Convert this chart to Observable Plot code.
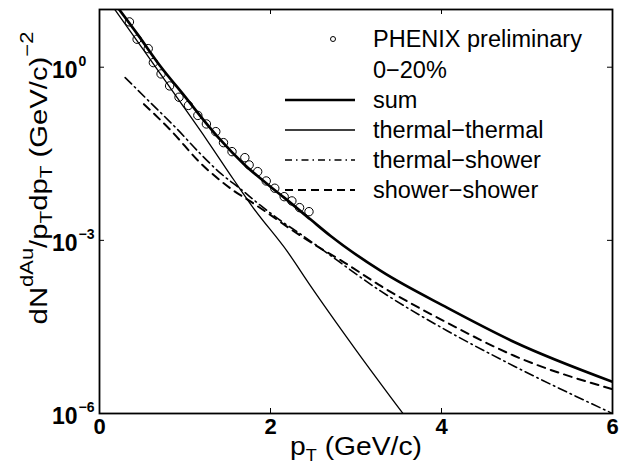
<!DOCTYPE html>
<html>
<head>
<meta charset="utf-8">
<script src="https://cdn.jsdelivr.net/npm/d3@7"></script>
<script src="https://cdn.jsdelivr.net/npm/@observablehq/plot@0.6"></script>
<style>
  html, body { margin: 0; padding: 0; background: white; }
</style>
</head>
<body>
<div id="chart"></div>
<script>
// ---- data ----
const xTicks = [0, 2, 4, 6];
const yTicks = [1, 1e-3, 1e-6];
const yTickExponents = ["0", "\u22123", "\u22126"];

// PHENIX preliminary 0-20% (pT in GeV/c, log10 of yield)
const phenixX = [0.35,0.44,0.57,0.63,0.72,0.82,0.93,1.04,1.15,1.25,1.36,1.45,1.55,1.70,1.75,1.85,1.95,2.05,2.16,2.25,2.34,2.45];
const phenixLog = [0.785,0.485,0.322,0.08,-0.116,-0.324,-0.52,-0.662,-0.835,-0.983,-1.116,-1.307,-1.463,-1.567,-1.693,-1.809,-1.971,-2.097,-2.243,-2.317,-2.433,-2.503];

// sum
const sumX = [0.2,0.45,0.71,1.0,1.22,1.415,1.69,2.0,2.16,2.47,2.7,3.29,4.07,4.85,6.0];
const sumLog = [1.06,0.56,0.02,-0.51,-0.92,-1.26,-1.68,-2.07,-2.26,-2.64,-2.92,-3.53,-4.17,-4.76,-5.45];

// thermal-thermal
const ttX = [0.15,0.5,0.9,1.26,1.57,1.8,2.2,2.46,3.0,3.6];
const ttLog = [1.06,0.33,-0.51,-1.27,-1.95,-2.44,-3.2,-3.77,-4.9,-6.1];

// thermal-shower
const tsX = [0.3,0.6,0.9,1.18,1.41,1.65,1.88,2.12,2.35,2.55,3.29,4.07,4.85,6.0];
const tsLog = [-0.18,-0.62,-1.06,-1.50,-1.83,-2.11,-2.39,-2.66,-2.89,-3.10,-3.88,-4.57,-5.18,-6.0];

// shower-shower
const ssX = [0.52,0.85,1.18,1.41,1.57,1.77,1.96,2.24,2.51,2.86,3.29,4.07,4.85,6.0];
const ssLog = [-0.64,-1.12,-1.66,-1.96,-2.14,-2.33,-2.52,-2.81,-3.07,-3.38,-3.79,-4.43,-5.0,-5.58];

const legendLabels = ["PHENIX preliminary", "0\u221220%", "sum", "thermal\u2212thermal", "thermal\u2212shower", "shower\u2212shower"];

// ---- build tables ----
const toRows = (xs, ls) => xs.map((x, i) => ({x, y: Math.pow(10, ls[i])}));
const phenix = toRows(phenixX, phenixLog);
const sum = toRows(sumX, sumLog);
const tt = toRows(ttX, ttLog);
const ts = toRows(tsX, tsLog);
const ss = toRows(ssX, ssLog);

const W = 625, H = 466;
const mL = 99, mR = 13, mT = 9, mB = 53;
const pw = W - mL - mR, ph = H - mT - mB;
const FONT = "'Liberation Sans', Arial, Helvetica, sans-serif";

const svg = Plot.plot({
  width: W, height: H,
  marginLeft: mL, marginRight: mR, marginTop: mT, marginBottom: mB,
  style: {background: "white", fontFamily: FONT, color: "black"},
  x: {domain: [0, 6], axis: null},
  y: {type: "log", domain: [1e-6, 10], axis: null},
  marks: [
    Plot.line(tt, {x: "x", y: "y", stroke: "black", strokeWidth: 1.3, curve: "monotone-x", clip: true}),
    Plot.line(ts, {x: "x", y: "y", stroke: "black", strokeWidth: 1.6, strokeDasharray: "9,4,1.5,4", curve: "monotone-x", clip: true}),
    Plot.line(ss, {x: "x", y: "y", stroke: "black", strokeWidth: 2, strokeDasharray: "8,6", curve: "monotone-x", clip: true}),
    Plot.line(sum, {x: "x", y: "y", stroke: "black", strokeWidth: 2.7, curve: "monotone-x", clip: true}),
    Plot.dot(phenix, {x: "x", y: "y", r: 4.2, stroke: "black", strokeWidth: 1, fill: "none", clip: true}),
    Plot.frame({stroke: "black", strokeWidth: 1.8}),
    Plot.tickX(xTicks, {x: d => d, stroke: "black", insetTop: ph - 5}),
    Plot.tickX(xTicks, {x: d => d, stroke: "black", insetBottom: ph - 5}),
    Plot.tickY(yTicks, {y: d => d, stroke: "black", insetRight: pw - 5}),
    Plot.tickY(yTicks, {y: d => d, stroke: "black", insetLeft: pw - 5}),
    Plot.text(xTicks, {x: d => d, frameAnchor: "bottom", dy: 20, text: d => String(d), fontSize: 22, fontWeight: "bold", fill: "black"}),
    Plot.text(yTicks, {y: d => d, frameAnchor: "left", dx: -22, dy: 3, textAnchor: "end", text: () => "10", fontSize: 23, fontWeight: "bold", fill: "black"}),
    Plot.text(yTicks, {y: d => d, frameAnchor: "left", dx: -21, dy: -6, textAnchor: "start", text: (d, i) => yTickExponents[i], fontSize: 14, fontWeight: "bold", fill: "black"})
  ]
});

const s = d3.select(svg);

// x label
const xl = s.append("text")
  .attr("transform", "translate(356,455) scale(1.13,1)")
  .attr("text-anchor", "middle")
  .attr("font-family", FONT).attr("font-size", 25).attr("fill", "black");
xl.append("tspan").text("p");
xl.append("tspan").attr("font-size", 16).attr("dy", 6).text("T");
xl.append("tspan").attr("dy", -6).text(" (GeV/c)");

// y label
const yl = s.append("text")
  .attr("transform", "translate(47,178) rotate(-90) scale(1.22,1)")
  .attr("text-anchor", "middle")
  .attr("font-family", FONT).attr("font-size", 24).attr("fill", "black");
yl.append("tspan").text("dN");
yl.append("tspan").attr("font-size", 18).attr("dy", -14).text("dAu");
yl.append("tspan").attr("dy", 14).text("/p");
yl.append("tspan").attr("font-size", 17).attr("dy", 5).text("T");
yl.append("tspan").attr("dy", -5).text("dp");
yl.append("tspan").attr("font-size", 17).attr("dy", 5).text("T");
yl.append("tspan").attr("dy", -5).text(" (GeV/c)");
yl.append("tspan").attr("font-size", 18).attr("dy", -14).text("\u22122");

// legend
const lg = s.append("g").attr("font-family", FONT).attr("font-size", 23.5)
  .attr("fill", "black").attr("text-anchor", "start");
const rowY = [39, 70, 100, 130, 160, 190];
const textX = 373;
lg.append("circle").attr("cx", 333).attr("cy", rowY[0]).attr("r", 2.5)
  .attr("fill", "none").attr("stroke", "black").attr("stroke-width", 1);
const sampleStyles = [null, null,
  {w: 2.7, dash: null},
  {w: 1.3, dash: null},
  {w: 1.6, dash: "7,4,1.5,4"},
  {w: 2, dash: "8,5"}];
sampleStyles.forEach((st, i) => {
  if (!st) return;
  const ln = lg.append("line").attr("x1", 285).attr("x2", 355)
    .attr("y1", rowY[i]).attr("y2", rowY[i])
    .attr("stroke", "black").attr("stroke-width", st.w);
  if (st.dash) ln.attr("stroke-dasharray", st.dash);
});
legendLabels.forEach((t, i) => {
  lg.append("text").attr("x", textX).attr("y", rowY[i]).attr("dy", "0.35em")
    .attr("text-anchor", "start").text(t);
});

document.getElementById("chart").appendChild(svg);
</script>
</body>
</html>
